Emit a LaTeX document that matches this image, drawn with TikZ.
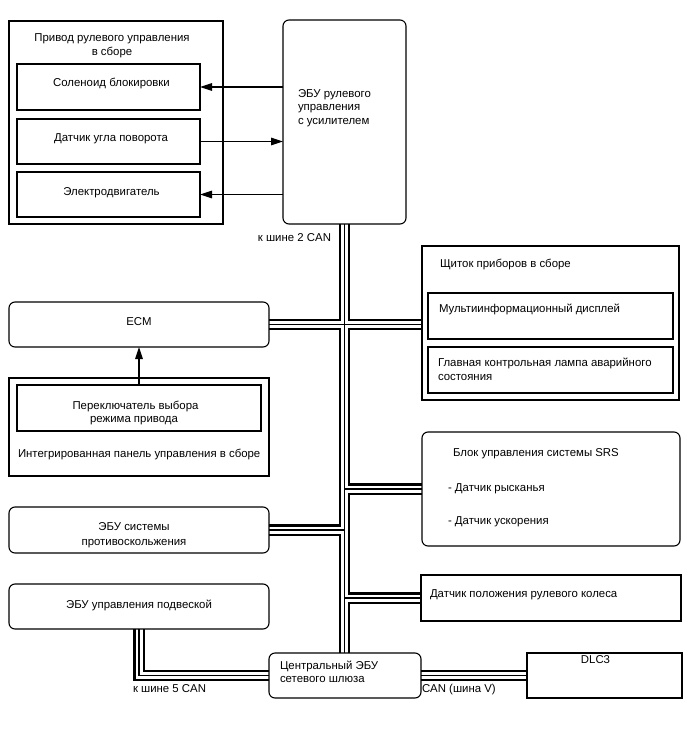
\documentclass[tikz,border=0pt]{standalone}
\usepackage{fontspec}
\setmainfont{Liberation Sans}
\usetikzlibrary{fit,arrows.meta,backgrounds}
\newcommand\mybuses[1]{%
  \draw[#1] (eps.south) -- (eps.south |- gw.north);
  \draw[#1] (ecm.east) -- (cluster.west |- ecm.east);
  \draw[#1] (vsc.east) -- (eps.south |- vsc.east);
  \draw[#1] (srs.west) -- (eps.south |- srs.west);
  \draw[#1] (sas.west) -- (eps.south |- sas.west);
  \draw[#1] (gw.east) -- (dlc.west);
  \draw[#1] (susp.south) -- (susp.south |- gw.west) -- (gw.west);
}
\begin{document}
\begin{tikzpicture}[x=1pt,y=-1pt,
  box/.style={draw=black, line width=1.1pt, inner sep=0pt, outer sep=0pt},
  rbox/.style={box, rounded corners=6pt},
  txt/.style={inner sep=0pt, outer sep=0pt, yshift=-2pt, font=\fontsize{11.4}{13.5}\selectfont},
  arr/.style={line width=1.3pt, -{Triangle[length=12pt,width=7.5pt]}},
  busA/.style={line width=11.5pt, black, line join=miter},
  busB/.style={line width=7pt, white, line join=miter},
  busC/.style={line width=1.6pt, black, line join=miter}]
\useasboundingbox (0,0) rectangle (688,755);
% boxes
\node[box, fit={(9,21) (223,224)}] (drive) {};
\node[box, fit={(17,64) (200,110)}] (sol) {};
\node[box, fit={(17,119) (200,164)}] (ang) {};
\node[box, fit={(17,172) (200,217)}] (mot) {};
\node[rbox, fit={(283,20) (406,224)}] (eps) {};
\node[rbox, fit={(9,302) (269,347)}] (ecm) {};
\node[box, fit={(9,378) (269,476)}] (ipanel) {};
\node[box, fit={(17,385) (261,431)}] (sw) {};
\node[rbox, fit={(9,507) (269,553)}] (vsc) {};
\node[rbox, fit={(9,584) (269,629)}] (susp) {};
\node[rbox, fit={(269,653) (421,698)}] (gw) {};
\node[box, fit={(422,246) (679,400)}] (cluster) {};
\node[box, fit={(428,293) (673,339)}] (mid) {};
\node[box, fit={(428,347) (673,393)}] (lamp) {};
\node[rbox, fit={(422,432) (680,546)}] (srs) {};
\node[box, fit={(421,575) (681,621)}] (sas) {};
\node[box, fit={(527,653) (682,698)}] (dlc) {};
% buses
\begin{scope}[on background layer]
\mybuses{busA}
\mybuses{busB}
\mybuses{busC}
\end{scope}
% arrows
\draw[arr] (eps.west |- sol.east) -- (sol.east);
\draw[arr] (ang.east) -- (eps.west |- ang.east);
\draw[arr] (eps.west |- mot.east) -- (mot.east);
\draw[arr] (sw.north) -- (ecm.south);
% texts
\node[txt, anchor=mid] (t1) at (112,37) {Привод рулевого управления};
\node[txt, anchor=mid] (t2) at (112,51) {в сборе};
\node[txt, anchor=mid] (t3) at (111.5,82) {Соленоид блокировки};
\node[txt, anchor=mid] (t4) at (111,137) {Датчик угла поворота};
\node[txt, anchor=mid] (t5) at (111.5,191) {Электродвигатель};
\node[txt, anchor=mid west] (t6) at (298,93) {ЭБУ рулевого};
\node[txt, anchor=mid west] (t7) at (298,106) {управления};
\node[txt, anchor=mid west] (t8) at (298,119.5) {с усилителем};
\node[txt, anchor=mid east] (t9) at (331,237) {к шине 2 CAN};
\node[txt, anchor=mid] (t10) at (139,321) {ECM};
\node[txt, anchor=mid] (t11) at (135.5,405) {Переключатель выбора};
\node[txt, anchor=mid] (t12) at (134,418) {режима привода};
\node[txt, anchor=mid west] (t13) at (18,453) {Интегрированная панель управления в сборе};
\node[txt, anchor=mid] (t14) at (134,526) {ЭБУ системы};
\node[txt, anchor=mid] (t15) at (134,541) {противоскольжения};
\node[txt, anchor=mid west] (t16) at (440,263) {Щиток приборов в сборе};
\node[txt, anchor=mid west] (t17) at (439,308) {Мультиинформационный дисплей};
\node[txt, anchor=mid west] (t18) at (438,362) {Главная контрольная лампа аварийного};
\node[txt, anchor=mid west] (t19) at (438,376) {состояния};
\node[txt, anchor=mid west] (t20) at (453,452) {Блок управления системы SRS};
\node[txt, anchor=mid west] (t21) at (448,487) {- Датчик рысканья};
\node[txt, anchor=mid west] (t22) at (448,520) {- Датчик ускорения};
\node[txt, anchor=mid west] (t23) at (430,593) {Датчик положения рулевого колеса};
\node[txt, anchor=mid] (t24) at (139,604) {ЭБУ управления подвеской};
\node[txt, anchor=mid west] (t25) at (280,665) {Центральный ЭБУ};
\node[txt, anchor=mid west] (t26) at (280,678) {сетевого шлюза};
\node[txt, anchor=mid] (t27) at (595.5,659) {DLC3};
\node[txt, anchor=mid west] (t28) at (422,688) {CAN (шина V)};
\node[txt, anchor=mid west] (t29) at (133,688) {к шине 5 CAN};
\end{tikzpicture}
\end{document}
